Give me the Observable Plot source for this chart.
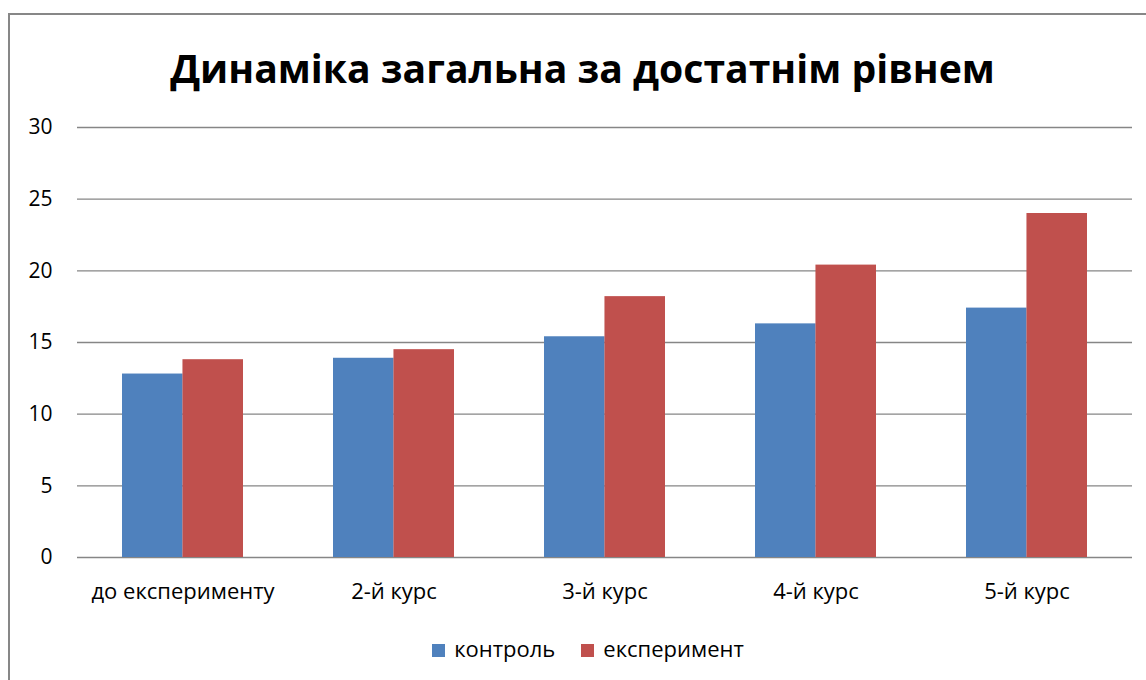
<!DOCTYPE html>
<html>
<head>
<meta charset="utf-8">
<script src="https://cdn.jsdelivr.net/npm/d3@7"></script>
<script src="https://cdn.jsdelivr.net/npm/@observablehq/plot@0.6"></script>
<style>
  body { margin: 0; background: #fff; width: 1146px; height: 680px; overflow: hidden; position: relative; font-family: "Open Sans", sans-serif; }
  #frame { position: absolute; left: 8px; top: 13px; width: 1200px; height: 720px; border: 2px solid #878787; box-sizing: border-box; }
  #title { position: absolute; left: 0; width: 1165px; top: 44px; text-align: center; font-weight: bold; font-size: 44px; line-height: 44px; color: #000; white-space: nowrap; }
  #title span { display: inline-block; }
  #chart { position: absolute; left: 0; top: 100px; }
  #legend { position: absolute; left: 0; width: 1176px; top: 634px; text-align: center; font-size: 22px; line-height: 28px; color: #000; white-space: nowrap; }
  .item { display: inline-block; margin: 0 13px; }
  .sw { display: inline-block; width: 13px; height: 13px; margin-right: 9px; vertical-align: 0px; }
</style>
</head>
<body>
<div id="frame"></div>
<div id="title"><span id="titleText">Динаміка загальна за достатнім рівнем</span></div>
<div id="chart"></div>
<div id="legend"></div>
<script>
const categories = ["до експерименту", "2-й курс", "3-й курс", "4-й курс", "5-й курс"];
const seriesNames = ["контроль", "експеримент"];
const control = [12.8, 13.9, 15.4, 16.3, 17.4];
const experiment = [13.8, 14.5, 18.2, 20.4, 24.0];
const yTicks = [0, 5, 10, 15, 20, 25, 30];
const colors = ["#4F81BD", "#C0504D"];

const data = [];
categories.forEach((c, i) => {
  data.push({cat: c, series: seriesNames[0], value: control[i]});
  data.push({cat: c, series: seriesNames[1], value: experiment[i]});
});

const W = 1146, ml = 77, mr = 14, mt = 27, mb = 70;
const pInner = 0.427, pOuter = 0.2135;
const step = (W - ml - mr) / (categories.length - pInner + 2 * pOuter);
const half = step * (1 - pInner) / 2;

const chart = Plot.plot({
  width: W,
  height: 457 + mb,
  marginLeft: ml,
  marginRight: mr,
  marginTop: mt,
  marginBottom: mb,
  style: {fontFamily: "Open Sans, sans-serif", fontSize: "21px", color: "#000", background: "transparent"},
  x: {domain: categories, paddingInner: pInner, paddingOuter: pOuter, label: null},
  y: {domain: [0, 30], label: null},
  color: {domain: seriesNames, range: colors},
  marks: [
    Plot.ruleY(yTicks, {stroke: "#868686", strokeWidth: 1.3}),
    Plot.barY(data.filter(d => d.series === seriesNames[0]), {x: "cat", y: "value", fill: "series", insetRight: half}),
    Plot.barY(data.filter(d => d.series === seriesNames[1]), {x: "cat", y: "value", fill: "series", insetLeft: half}),
    Plot.axisY({ticks: yTicks, tickSize: 0, tickPadding: 25, label: null, fontSize: 21}),
    Plot.axisX({tickSize: 0, tickPadding: 25.5, label: null, fontSize: 22})
  ]
});
document.getElementById("chart").appendChild(chart);

const legend = document.getElementById("legend");
seriesNames.forEach((s, i) => {
  const it = document.createElement("span");
  it.className = "item";
  const sw = document.createElement("span");
  sw.className = "sw";
  sw.style.background = colors[i];
  it.appendChild(sw);
  it.appendChild(document.createTextNode(s));
  legend.appendChild(it);
});

// fit title width to reference width
const tt = document.getElementById("titleText");
const target = 825;
const w = tt.getBoundingClientRect().width;
const fs = 44 * target / w;
const titleEl = document.getElementById("title");
titleEl.style.fontSize = fs + "px";
titleEl.style.lineHeight = fs + "px";
titleEl.style.top = (83 - 0.888 * fs) + "px";
</script>
</body>
</html>
